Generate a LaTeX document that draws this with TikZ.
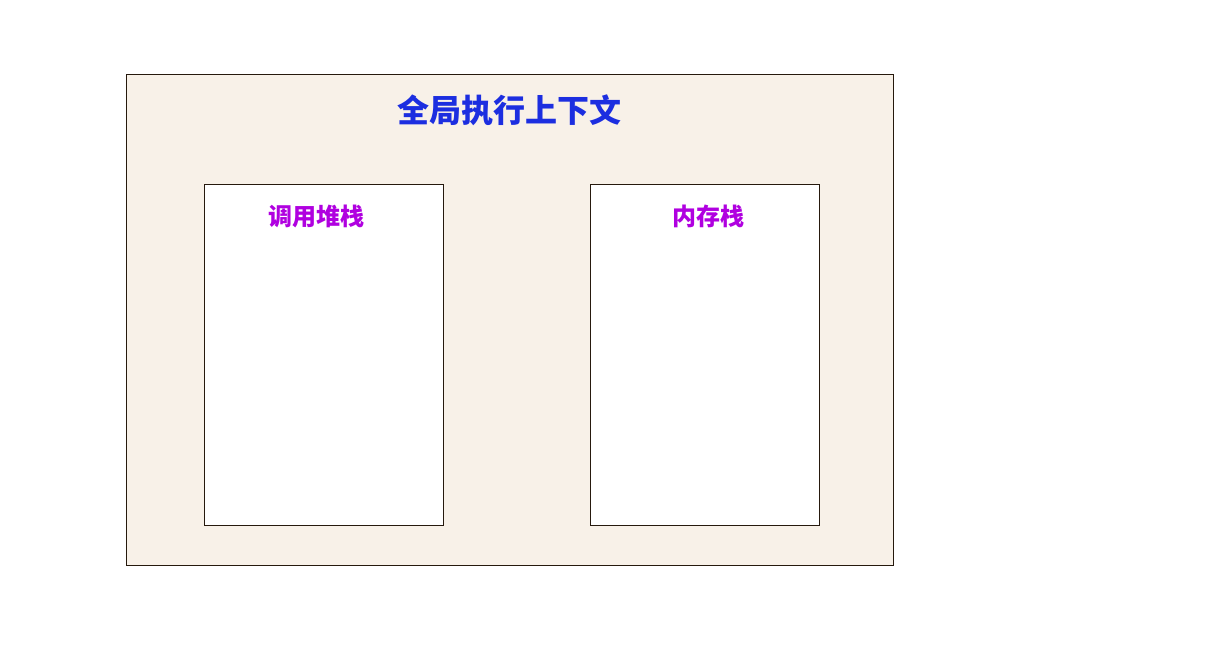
\documentclass[tikz,border=0pt]{standalone}
\usepackage{fontspec}
\newfontfamily\cjk{Noto Sans CJK SC}
\definecolor{ctxbg}{HTML}{F8F1E8}
\definecolor{titleblue}{HTML}{1C2EE0}
\definecolor{labelpurple}{HTML}{B000E0}
\tikzset{
  ctxbox/.style={draw=black!80!brown, line width=0.6pt},
  title/.style={font=\cjk\bfseries\fontsize{24}{28}\selectfont, text=titleblue},
  label/.style={font=\cjk\bfseries\fontsize{18}{22}\selectfont, text=labelpurple}
}

\begin{document}
\begin{tikzpicture}[x=0.75pt,y=-0.75pt]
\useasboundingbox (0,0) rectangle (1208,648);
% outer context
\draw[ctxbox, fill=ctxbg] (126,74) rectangle (893,565);
\node[title] (gec) at (509,110) {全局执行上下文};
% call stack
\draw[ctxbox, fill=white] (204,184) rectangle (443,525);
\node[label] (callstack) at (316,216) {调用堆栈};
% memory stack
\draw[ctxbox, fill=white] (590,184) rectangle (819,525);
\node[label] (memstack) at (708,216) {内存栈};
\end{tikzpicture}
\end{document}
